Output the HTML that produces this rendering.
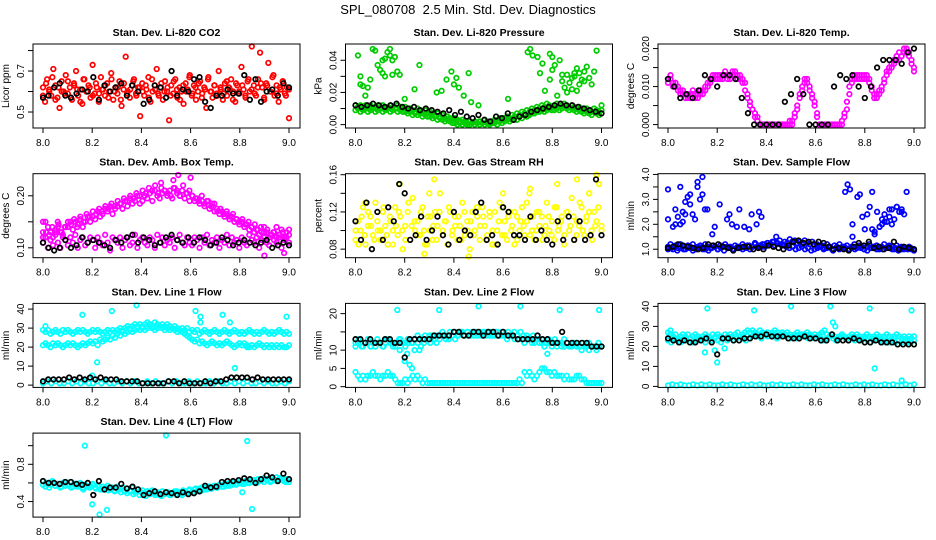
<!DOCTYPE html>
<html><head><meta charset="utf-8"><title>SPL_080708 Diagnostics</title>
<style>
html,body{margin:0;padding:0;background:#fff;}
svg{display:block;font-family:"Liberation Sans",Arial,sans-serif;}
</style></head>
<body>
<svg id="chart" width="936" height="540" viewBox="0 0 936 540" xmlns="http://www.w3.org/2000/svg">
<rect width="936" height="540" fill="#fff"/>
<text x="468" y="14" text-anchor="middle" font-size="13" style="white-space:pre">SPL_080708  2.5 Min. Std. Dev. Diagnostics</text>
</svg>
<script>
// ---------- data ----------
const xTicks = [8.0, 8.2, 8.4, 8.6, 8.8, 9.0];
const xTickLabels = ["8.0", "8.2", "8.4", "8.6", "8.8", "9.0"];

const co2Red = [0.62,0.55,0.66,0.60,0.58,0.71,0.63,0.57,0.52,0.65,0.60,0.68,0.59,0.62,0.56,0.64,0.70,0.58,0.61,0.54,
0.66,0.60,0.63,0.57,0.73,0.59,0.62,0.55,0.67,0.61,0.58,0.64,0.60,0.69,0.56,0.62,0.59,0.65,0.53,0.61,
0.77,0.60,0.57,0.63,0.66,0.59,0.62,0.48,0.64,0.58,0.61,0.67,0.55,0.60,0.63,0.71,0.58,0.62,0.56,0.65,
0.60,0.46,0.63,0.59,0.66,0.57,0.62,0.60,0.54,0.64,0.61,0.68,0.58,0.63,0.56,0.60,0.65,0.59,0.62,0.52,
0.67,0.60,0.57,0.63,0.59,0.70,0.61,0.56,0.64,0.58,0.62,0.66,0.60,0.55,0.63,0.59,0.72,0.61,0.57,0.65,
0.60,0.82,0.63,0.58,0.66,0.79,0.62,0.56,0.64,0.74,0.60,0.67,0.58,0.63,0.55,0.61,0.65,0.59,0.62,0.47];
const co2Red2 = [0.58,0.64,0.61,0.67,0.56,0.62,0.60,0.59,0.65,0.57,0.63,0.61,0.55,0.66,0.60,0.62,0.58,0.64,0.59,0.61,
0.63,0.57,0.66,0.60,0.62,0.56,0.64,0.59,0.61,0.65,0.58,0.62,0.60,0.63,0.57,0.66,0.61,0.59,0.64,0.60,
0.62,0.58,0.65,0.61,0.56,0.63,0.60,0.67,0.59,0.62,0.64,0.57,0.61,0.66,0.60,0.63,0.58,0.62,0.59,0.65,
0.61,0.56,0.64,0.60,0.63,0.58,0.66,0.61,0.59,0.62,0.64,0.57,0.63,0.60,0.68,0.59,0.62,0.65,0.58,0.61];
const co2Black = [0.57,0.58,0.62,0.64,0.58,0.57,0.59,0.61,0.60,0.67,0.56,0.63,0.60,0.62,0.64,0.58,0.63,0.60,0.54,0.56,0.63,0.62,0.57,0.70,0.58,0.61,0.60,0.66,0.67,0.55,0.52,0.58,0.58,0.61,0.59,0.59,0.68,0.56,0.66,0.55,0.60,0.61,0.58,0.64,0.62];

const pressGreen = [0.012,0.011,0.012,0.010,0.012,0.011,0.012,0.010,0.011,0.012,0.011,0.012,0.010,0.011,0.012,0.011,0.010,0.012,0.011,0.010,
0.011,0.009,0.010,0.009,0.008,0.010,0.009,0.008,0.009,0.007,0.008,0.007,0.006,0.007,0.005,0.006,0.004,0.005,0.004,0.003,
0.004,0.003,0.002,0.003,0.002,0.001,0.002,0.001,0.002,0.001,0.002,0.001,0.003,0.002,0.001,0.002,0.003,0.002,0.004,0.003,
0.004,0.005,0.004,0.006,0.005,0.007,0.006,0.008,0.007,0.009,0.008,0.010,0.009,0.011,0.010,0.012,0.011,0.013,0.012,0.011,
0.012,0.013,0.011,0.012,0.013,0.012,0.011,0.012,0.011,0.010,0.011,0.010,0.009,0.010,0.009,0.008,0.010,0.009,0.008,0.012];
const pressGreen2 = [0.009,0.010,0.008,0.009,0.010,0.008,0.009,0.010,0.008,0.009,0.010,0.008,0.009,0.010,0.008,0.009,0.010,0.008,0.009,0.008,
0.008,0.007,0.008,0.006,0.007,0.006,0.007,0.005,0.006,0.005,0.005,0.004,0.005,0.003,0.004,0.003,0.002,0.003,0.002,0.001,
0.001,0.000,0.001,0.000,0.001,0.000,0.000,0.001,0.000,0.001,0.000,0.001,0.000,0.001,0.000,0.001,0.001,0.000,0.002,0.001,
0.002,0.003,0.002,0.003,0.004,0.003,0.005,0.004,0.006,0.005,0.006,0.007,0.007,0.008,0.008,0.009,0.008,0.009,0.010,0.009,
0.009,0.010,0.009,0.010,0.011,0.010,0.009,0.010,0.009,0.008,0.009,0.008,0.007,0.008,0.007,0.006,0.008,0.007,0.006,0.009];
const pressOutX = [8.01,8.02,8.03,8.02,8.04,8.05,8.06,8.07,8.08,8.09,8.10,8.11,8.12,8.13,8.14,8.15,8.16,8.17,8.18,8.15,8.11,8.12,8.14,8.20,8.24,8.26,8.33,8.35,8.37,8.39,8.40,8.42,8.44,8.46,8.41,8.47,8.50,8.62,
8.70,8.71,8.72,8.74,8.76,8.79,8.81,8.84,8.80,8.85,8.86,8.87,8.88,8.89,8.90,8.91,8.92,8.93,8.94,8.95,8.96,8.97,8.98,8.86,8.88,8.91,8.93,8.84,8.83,8.79,8.77,8.82,8.75,8.80,8.90,8.89];
const pressOutY = [0.043,0.030,0.024,0.025,0.018,0.023,0.028,0.047,0.046,0.037,0.034,0.032,0.041,0.045,0.047,0.040,0.042,0.033,0.031,0.031,0.040,0.030,0.043,0.016,0.022,0.037,0.020,0.021,0.028,0.033,0.025,0.023,0.018,0.032,0.029,0.014,0.012,0.016,
0.045,0.047,0.043,0.042,0.038,0.044,0.037,0.027,0.042,0.023,0.020,0.026,0.022,0.030,0.035,0.032,0.028,0.033,0.036,0.029,0.025,0.033,0.046,0.031,0.029,0.025,0.027,0.031,0.040,0.028,0.021,0.018,0.032,0.034,0.021,0.032];
const pressBlack = [0.012,0.011,0.012,0.013,0.012,0.011,0.012,0.013,0.011,0.010,0.011,0.009,0.010,0.009,0.008,0.007,0.009,0.006,0.008,0.005,0.004,0.006,0.003,0.002,0.005,0.004,0.007,0.003,0.005,0.006,0.008,0.009,0.010,0.011,0.012,0.013,0.012,0.012,0.011,0.010,0.009,0.008,0.007];

const tempMag = [0.011,0.012,0.010,0.011,0.009,0.008,0.009,0.007,0.008,0.007,0.008,0.007,0.008,0.009,0.008,0.009,0.010,0.011,0.012,0.013,
0.012,0.013,0.012,0.013,0.012,0.013,0.014,0.013,0.012,0.013,0.012,0.011,0.008,0.006,0.004,0.003,0.002,0.000,0.000,0.000,
0.000,0.000,0.000,0.000,0.000,0.000,0.000,0.000,0.000,0.000,0.000,0.002,0.004,0.008,0.009,0.011,0.012,0.010,0.008,0.006,
0.003,0.000,0.000,0.000,0.000,0.000,0.000,0.000,0.000,0.000,0.000,0.002,0.004,0.008,0.012,0.013,0.012,0.013,0.012,0.013,
0.013,0.012,0.010,0.008,0.007,0.008,0.009,0.011,0.013,0.014,0.015,0.016,0.017,0.017,0.018,0.019,0.020,0.019,0.017,0.015];
const tempMag2 = [0.012,0.013,0.011,0.010,0.010,0.009,0.008,0.008,0.007,0.008,0.009,0.008,0.007,0.008,0.009,0.010,0.011,0.012,0.013,0.012,
0.013,0.012,0.013,0.014,0.013,0.012,0.013,0.014,0.013,0.012,0.011,0.009,0.007,0.005,0.004,0.002,0.001,0.000,0.000,0.000,
0.000,0.000,0.000,0.000,0.000,0.000,0.000,0.000,0.000,0.001,0.001,0.003,0.005,0.007,0.010,0.012,0.011,0.009,0.007,0.005,
0.002,0.000,0.000,0.000,0.000,0.000,0.000,0.000,0.000,0.000,0.001,0.003,0.006,0.010,0.011,0.012,0.013,0.012,0.013,0.012,
0.012,0.011,0.009,0.007,0.008,0.009,0.010,0.012,0.014,0.015,0.016,0.017,0.018,0.019,0.018,0.020,0.019,0.018,0.016,0.014];
const tempBlack = [0.012,0.010,0.007,0.008,0.007,0.009,0.013,0.012,0.010,0.013,0.013,0.012,0.007,0.003,0.000,0.000,0.000,0.000,0.000,0.006,0.008,0.012,0.008,0.000,0.000,0.000,0.000,0.010,0.013,0.012,0.013,0.010,0.007,0.010,0.015,0.017,0.017,0.017,0.016,0.019,0.020];

const ambLow = [0.11,0.12,0.10,0.115,0.105,0.125,0.11,0.10,0.12,0.115,0.105,0.12,0.11,0.125,0.10,0.115,0.12,0.105,0.11,0.12,
0.115,0.10,0.12,0.11,0.105,0.125,0.11,0.095,0.12,0.115,0.11,0.12,0.10,0.115,0.12,0.105,0.11,0.125,0.10,0.115,
0.12,0.11,0.105,0.12,0.115,0.10,0.125,0.11,0.12,0.105,0.115,0.11,0.12,0.10,0.115,0.125,0.11,0.105,0.12,0.11,
0.105,0.12,0.115,0.10,0.12,0.11,0.125,0.105,0.115,0.11,0.12,0.10,0.115,0.11,0.125,0.105,0.12,0.11,0.115,0.10,
0.12,0.11,0.105,0.125,0.115,0.11,0.12,0.10,0.115,0.12,0.11,0.105,0.125,0.115,0.11,0.12,0.10,0.115,0.12,0.11];
const ambArch = [0.13,0.12,0.14,0.13,0.12,0.135,0.14,0.13,0.125,0.14,0.14,0.15,0.135,0.15,0.145,0.155,0.14,0.15,0.16,0.15,
0.16,0.155,0.17,0.16,0.165,0.175,0.17,0.18,0.165,0.175,0.18,0.185,0.175,0.19,0.18,0.195,0.185,0.19,0.20,0.185,
0.19,0.20,0.195,0.205,0.19,0.21,0.20,0.195,0.205,0.21,0.20,0.21,0.195,0.215,0.205,0.20,0.21,0.195,0.205,0.19,
0.20,0.19,0.195,0.185,0.19,0.18,0.19,0.175,0.185,0.17,0.175,0.165,0.17,0.16,0.165,0.155,0.16,0.15,0.155,0.145,
0.15,0.14,0.145,0.135,0.14,0.13,0.135,0.125,0.13,0.14,0.13,0.12,0.125,0.13,0.12,0.125,0.135,0.12,0.13,0.125];
const ambArch2 = [0.12,0.13,0.125,0.14,0.13,0.145,0.13,0.14,0.15,0.145,0.155,0.14,0.16,0.15,0.165,0.16,0.17,0.165,0.175,0.17,
0.18,0.175,0.185,0.18,0.19,0.185,0.195,0.19,0.20,0.195,0.205,0.20,0.21,0.205,0.215,0.21,0.22,0.205,0.215,0.21,
0.205,0.20,0.215,0.21,0.20,0.22,0.205,0.21,0.20,0.195,0.19,0.20,0.185,0.19,0.18,0.185,0.17,0.175,0.165,0.17,
0.16,0.165,0.155,0.15,0.155,0.145,0.15,0.14,0.145,0.135,0.14,0.13,0.135,0.125,0.13,0.14,0.125,0.13,0.12,0.135];
const ambOutX = [8.00,8.01,8.06,8.48,8.53,8.55,8.60,8.90,8.98];
const ambOutY = [0.15,0.15,0.15,0.225,0.23,0.24,0.235,0.085,0.09];
const ambBlack = [0.11,0.10,0.095,0.10,0.115,0.10,0.105,0.12,0.11,0.115,0.11,0.105,0.10,0.115,0.11,0.12,0.125,0.11,0.12,0.115,0.105,0.11,0.12,0.125,0.115,0.11,0.12,0.11,0.12,0.115,0.105,0.11,0.12,0.115,0.105,0.11,0.115,0.11,0.105,0.11,0.115,0.10,0.105,0.11,0.105];

const rhYellow = [0.09,0.11,0.10,0.125,0.085,0.105,0.115,0.095,0.13,0.10,0.09,0.12,0.105,0.085,0.11,0.10,0.125,0.095,0.115,0.08,
0.105,0.12,0.09,0.135,0.10,0.11,0.095,0.125,0.085,0.115,0.10,0.09,0.12,0.105,0.14,0.095,0.11,0.085,0.12,0.10,
0.115,0.09,0.105,0.13,0.095,0.11,0.08,0.12,0.10,0.115,0.09,0.125,0.105,0.095,0.115,0.085,0.12,0.10,0.13,0.095,
0.11,0.09,0.12,0.105,0.085,0.115,0.10,0.125,0.095,0.11,0.14,0.10,0.09,0.12,0.105,0.115,0.095,0.13,0.10,0.11,
0.09,0.125,0.105,0.115,0.095,0.12,0.10,0.135,0.09,0.11,0.105,0.125,0.095,0.115,0.14,0.10,0.12,0.11,0.15,0.105];
const rhYellow2 = [0.10,0.085,0.115,0.095,0.12,0.105,0.09,0.11,0.10,0.125,0.095,0.115,0.085,0.105,0.12,0.10,0.09,0.13,0.105,0.11,
0.095,0.12,0.10,0.085,0.115,0.105,0.09,0.12,0.10,0.11,0.125,0.095,0.105,0.115,0.09,0.12,0.10,0.11,0.095,0.125,
0.105,0.115,0.09,0.12,0.10,0.085,0.11,0.125,0.095,0.115,0.10,0.12,0.09,0.11,0.105,0.13,0.095,0.115,0.10,0.12,
0.09,0.105,0.115,0.095,0.125,0.10,0.11,0.085,0.12,0.105,0.115,0.095,0.13,0.10,0.11,0.12,0.09,0.105,0.125,0.10];
const rhOutX = [8.04,8.18,8.30,8.32,8.60,8.71,8.82,8.90,8.95,8.98,8.28,8.46];
const rhOutY = [0.13,0.15,0.14,0.155,0.14,0.145,0.15,0.155,0.14,0.16,0.075,0.072];
const rhBlack = [0.11,0.09,0.13,0.08,0.12,0.09,0.125,0.11,0.15,0.14,0.09,0.095,0.115,0.09,0.10,0.115,0.095,0.085,0.12,0.09,0.10,0.095,0.12,0.13,0.09,0.095,0.085,0.125,0.12,0.095,0.095,0.09,0.115,0.09,0.10,0.09,0.085,0.11,0.09,0.115,0.09,0.11,0.09,0.095,0.155,0.095];

const sampBlue = [1.1,1.2,1.0,1.15,1.05,1.2,1.1,1.0,1.15,1.1,1.2,1.05,1.1,1.15,1.0,1.2,1.1,1.05,1.15,1.1,
1.0,1.15,1.1,1.2,1.05,1.1,1.0,1.15,1.1,1.05,1.2,1.1,1.15,1.0,1.1,1.25,1.1,1.15,1.2,1.1,
1.25,1.2,1.3,1.15,1.25,1.35,1.2,1.3,1.25,1.4,1.3,1.35,1.25,1.3,1.2,1.35,1.25,1.2,1.3,1.15,
1.2,1.1,1.15,1.05,1.2,1.1,1.0,1.15,1.1,1.2,1.05,1.1,1.15,1.0,1.1,1.2,1.05,1.15,1.1,1.0,
1.1,1.2,1.05,1.1,1.15,1.0,1.1,1.2,1.05,1.15,1.1,1.0,1.15,1.05,1.1,1.0,1.05,1.1,1.0,0.95];
const sampBlue2 = [1.0,1.05,1.1,0.95,1.05,1.0,1.1,1.05,0.95,1.0,1.05,1.1,1.0,0.95,1.05,1.1,1.0,1.05,0.95,1.1,
1.05,1.0,1.05,1.1,1.0,1.05,1.15,1.1,1.2,1.15,1.1,1.2,1.25,1.2,1.3,1.25,1.2,1.15,1.1,1.05,
1.1,1.0,1.05,1.1,1.0,1.05,0.95,1.0,1.05,1.1,1.0,1.05,1.1,0.95,1.05,1.0,1.1,1.05,1.0,1.05,
1.0,1.1,1.05,1.0,0.95,1.05,1.1,1.0,1.05,1.0,1.05,1.1,1.0,1.05,0.95,1.0,1.05,1.0,1.05,1.0];
const sampOutX = [8.00,8.00,8.02,8.03,8.04,8.05,8.06,8.07,8.08,8.09,8.10,8.11,8.12,8.13,8.14,8.15,8.16,8.03,8.06,8.09,8.12,8.05,8.07,8.14,8.19,8.21,8.24,8.26,8.29,8.31,8.34,8.36,8.38,8.18,8.25,8.28,8.33,8.37,8.44,
8.72,8.73,8.74,8.75,8.77,8.78,8.80,8.81,8.82,8.83,8.84,8.85,8.86,8.87,8.88,8.89,8.90,8.91,8.92,8.93,8.94,8.95,8.96,8.97,8.75,8.79,8.83,8.86,8.90,8.93,8.87,8.91,8.95,8.84,8.88];
const sampOutY = [3.4,2.2,1.9,2.6,2.3,3.5,2.5,2.9,3.1,3.2,2.4,2.2,3.7,3.0,3.9,2.6,2.6,2.0,2.1,2.8,3.5,2.0,2.4,3.2,1.9,2.8,2.2,2.0,2.6,1.9,2.4,2.0,2.3,1.6,2.4,1.9,1.8,2.5,1.5,
3.3,3.6,3.4,2.0,3.1,3.2,1.8,2.4,2.7,3.3,1.7,2.5,1.9,2.2,2.4,2.1,2.6,2.0,2.2,2.7,2.5,2.6,2.4,3.3,1.5,2.3,1.8,1.9,2.3,2.7,2.0,2.6,2.5,1.6,2.1];
const sampBlack = [1.05,1.1,1.2,1.15,1.1,1.05,1.0,1.05,1.2,1.15,1.2,1.1,1.05,0.95,1.05,1.1,1.1,1.0,1.05,1.0,1.15,1.1,1.05,1.0,1.15,1.3,1.35,1.25,1.3,1.2,1.3,1.25,1.1,1.0,1.05,1.0,0.95,1.1,1.25,1.15,1.3,1.05,1.1,1.0,1.05,1.3,1.0,1.1,1.05,1.0];

const l1Upper = [29,28,29,27,28,29,28,27,29,28,29,28,27,28,29,28,29,28,27,28,
29,28,29,28,27,28,29,28,29,28,29,30,29,30,31,30,31,32,31,32,
31,32,33,32,31,33,32,31,32,31,32,31,30,31,30,29,30,29,30,28,
29,28,29,27,28,29,28,27,28,29,28,27,28,29,28,27,28,29,28,27,
28,27,28,29,28,27,28,27,28,29,28,27,28,27,28,29,28,27,28,27];
const l1Lower = [21,22,21,20,22,21,22,21,20,21,22,21,22,21,20,21,22,21,22,23,
22,23,21,24,23,24,25,24,26,25,27,26,28,27,28,29,28,29,30,29,
30,29,30,31,30,29,30,31,30,29,30,29,30,29,28,29,28,27,26,25,
24,23,24,22,23,22,21,22,23,22,21,22,21,22,23,22,21,20,21,22,
21,22,21,20,21,20,21,22,21,20,21,20,21,20,21,20,21,20,20,21];
const l1Bottom = [1,2,1,2,1,1,2,1,2,1,2,1,1,2,1,2,1,1,2,1,2,1,2,1,1,2,1,2,1,1,2,1,2,1,1,2,1,2,1,1,2,1,2,1,1,2,1,2,1,2,1,1,2,1,2,1,1,2,1,2];
const l1OutX = [8.01,8.16,8.22,8.20,8.28,8.38,8.62,8.64,8.73,8.76,8.78,8.99,8.64,8.83];
const l1OutY = [31,37,12,5,39,42,39,36,37,33,9,36,33,20];
const l1Black = [2,3,3,3,3,4,3,4,3,4,3,4,3,3,3,2,2,2,2,1,1,1,1,1,2,2,1,2,1,1,1,2,1,2,2,3,4,4,4,4,3,4,3,3,3,3,3,3];

const l2Main = [11,12,12,11,12,12,11,12,11,12,12,11,12,13,12,12,11,12,13,12,
12,13,13,12,13,14,13,13,14,13,14,14,13,14,14,15,14,14,15,14,
15,14,15,15,14,15,14,15,15,14,15,14,15,15,14,15,14,15,14,14,
14,13,14,14,13,14,13,13,12,13,13,12,12,13,12,12,11,12,12,11,
12,11,12,11,11,12,11,11,12,11,11,10,11,11,10,11,11,10,11,11];
const l2Main2 = [12,13,11,12,13,11,12,13,12,11,13,12,11,12,13,12,11,12,12,13,
12,11,12,13,12,13,12,13,14,13,13,14,13,14,15,14,15,14,14,15,
14,15,14,15,14,15,14,15,14,15,14,15,14,15,14,14,13,14,13,13,
13,12,13,12,13,12,12,13,12,11,12,12,11,12,11,12,11,11,12,11];
const l2Low = [4,3,2,3,2,3,3,4,3,3,2,3,3,4,3,3,2,1,1,1,
2,1,2,3,2,3,2,1,2,1,1,1,1,1,1,1,1,1,1,1,
1,1,1,1,1,1,1,1,1,1,1,1,1,1,1,1,1,1,1,1,
1,1,1,1,1,1,2,1,4,3,4,3,2,3,4,5,5,4,4,3,
4,3,3,3,2,3,2,2,2,3,3,2,2,1,1,1,1,1,1,1];
const l2OutX = [8.17,8.20,8.22,8.24,8.26,8.34,8.50,8.67,8.83,8.99,8.78,8.18,8.23,8.21];
const l2OutY = [21,7,6,10,10,21,22,22,21,21,9,10,5,9];
const l2Black = [13,13,12,13,12,12,13,13,12,12,8,13,13,13,13,13,14,14,14,14,15,15,14,14,15,15,14,15,15,14,15,14,14,13,13,13,13,14,13,13,12,12,15,12,12,12,12,12,11,11,11];

const l3Main = [27,26,25,26,24,25,26,25,26,24,25,26,25,24,25,26,25,24,26,25,
26,25,24,26,25,26,25,26,27,25,26,27,28,27,28,27,26,28,27,26,
27,26,27,28,27,26,27,26,27,26,25,26,27,26,25,26,27,26,25,26,
25,26,27,28,26,25,26,25,24,25,26,25,24,25,26,25,26,25,24,25,
26,25,24,25,26,25,24,25,26,25,24,25,26,25,24,25,24,25,24,25];
const l3Main2 = [23,22,24,23,22,24,23,24,22,23,24,23,22,24,23,24,23,22,24,23,
24,23,24,25,24,23,24,25,26,25,24,26,25,26,25,24,25,26,25,24,
25,24,25,26,25,24,25,24,25,24,23,24,25,24,23,24,25,24,23,24,
23,24,23,24,23,22,23,24,23,22,23,22,23,22,23,22,23,22,22,23];
const l3Bottom = [0.5,1,0.5,1,0.5,0.5,1,0.5,1,0.5,1,0.5,0.5,1,0.5,1,0.5,0.5,1,0.5,1,0.5,1,0.5,0.5,1,0.5,1,0.5,0.5,1,0.5,1,0.5,0.5,1,0.5,1,0.5,0.5,1,0.5,1,0.5,0.5,1,0.5,1,0.5,1,0.5,0.5,1,0.5,1,0.5,0.5,1,0.5,1];
const l3OutX = [8.16,8.20,8.23,8.35,8.50,8.66,8.67,8.68,8.82,8.84,8.99,8.15,8.19,8.01,8.95];
const l3OutY = [39,12,19,38,40,40,32,30,39,9,38,17,18,28,3];
const l3Black = [24,23,22,23,22,22,23,24,22,16,24,24,23,23,24,24,25,25,26,25,25,25,24,24,24,25,24,24,23,23,26,23,23,23,24,23,22,22,23,22,22,22,21,21,21,21];

const l4Band = [0.62,0.56,0.60,0.58,0.61,0.57,0.59,0.55,0.60,0.57,0.58,0.61,0.56,0.59,0.57,0.60,0.55,0.58,0.56,0.57,
0.59,0.55,0.57,0.53,0.56,0.54,0.57,0.53,0.55,0.52,0.56,0.53,0.55,0.51,0.54,0.52,0.55,0.50,0.53,0.51,
0.52,0.49,0.51,0.48,0.52,0.49,0.50,0.47,0.51,0.48,0.50,0.47,0.49,0.51,0.48,0.50,0.47,0.51,0.49,0.52,
0.50,0.53,0.51,0.54,0.52,0.55,0.53,0.56,0.54,0.57,0.55,0.58,0.56,0.59,0.57,0.60,0.58,0.61,0.59,0.60,
0.61,0.59,0.62,0.60,0.61,0.63,0.60,0.62,0.64,0.61,0.63,0.65,0.62,0.64,0.66,0.63,0.65,0.62,0.64,0.61];
const l4Band2 = [0.58,0.60,0.55,0.62,0.57,0.59,0.56,0.61,0.58,0.55,0.59,0.56,0.58,0.53,0.57,0.55,0.58,0.54,0.56,0.53,
0.55,0.52,0.54,0.51,0.53,0.50,0.52,0.49,0.51,0.48,0.50,0.47,0.49,0.46,0.48,0.50,0.47,0.49,0.46,0.48,
0.50,0.47,0.49,0.51,0.48,0.52,0.50,0.53,0.51,0.54,0.52,0.55,0.53,0.56,0.54,0.57,0.55,0.58,0.56,0.59,
0.57,0.60,0.58,0.61,0.59,0.62,0.60,0.63,0.61,0.64,0.62,0.65,0.63,0.61,0.64,0.62,0.65,0.63,0.61,0.64];
const l4OutX = [8.17,8.20,8.23,8.26,8.50,8.81,8.83,8.85,8.16];
const l4OutY = [1.00,0.37,0.26,0.31,1.11,0.50,1.05,0.32,0.54];
const l4Black = [0.62,0.60,0.60,0.59,0.61,0.61,0.59,0.58,0.60,0.47,0.62,0.53,0.55,0.55,0.59,0.54,0.56,0.53,0.47,0.49,0.51,0.48,0.50,0.49,0.47,0.50,0.48,0.49,0.51,0.57,0.55,0.56,0.61,0.62,0.62,0.63,0.65,0.64,0.60,0.64,0.68,0.66,0.62,0.70,0.64];

// ---------- layout config (not data) ----------
const panels = [
 {key:"co2", title:"Stan. Dev. Li-820 CO2", ylab:"Licor ppm", ylim:[0.422,0.832], ticks:[0.5,0.6,0.7,0.8], tlab:["0.5","","0.7",""],
  series:[{v:co2Red,c:"#ff0000"},{v:co2Red2,c:"#ff0000"},{v:co2Black,c:"#000"}]},
 {key:"pressure", title:"Stan. Dev. Li-820 Pressure", ylab:"kPa", ylim:[-0.0021,0.0501], ticks:[0,0.01,0.02,0.03,0.04], tlab:["0.00","","0.02","","0.04"],
  series:[{v:pressGreen,c:"#00cc00"},{v:pressGreen2,c:"#00cc00"},{ox:pressOutX,oy:pressOutY,c:"#00cc00"},{v:pressBlack,c:"#000"}]},
 {key:"temp", title:"Stan. Dev. Li-820 Temp.", ylab:"degrees C", ylim:[-0.0009,0.0212], ticks:[0,0.005,0.01,0.015,0.02], tlab:["0.000","","0.010","","0.020"],
  series:[{v:tempMag,c:"#ff00ff"},{v:tempMag2,c:"#ff00ff"},{v:tempBlack,c:"#000"}]},
 {key:"amb", title:"Stan. Dev. Amb. Box Temp.", ylab:"degrees C", ylim:[0.081,0.2425], ticks:[0.10,0.15,0.20], tlab:["0.10","","0.20"],
  series:[{v:ambLow,c:"#ff00ff"},{v:ambArch,c:"#ff00ff"},{v:ambArch2,c:"#ff00ff"},{ox:ambOutX,oy:ambOutY,c:"#ff00ff"},{v:ambBlack,c:"#000"}]},
 {key:"rh", title:"Stan. Dev. Gas Stream RH", ylab:"percent", ylim:[0.0708,0.1611], ticks:[0.08,0.10,0.12,0.14,0.16], tlab:["0.08","","0.12","","0.16"],
  series:[{v:rhYellow,c:"#ffff00"},{v:rhYellow2,c:"#ffff00"},{ox:rhOutX,oy:rhOutY,c:"#ffff00"},{v:rhBlack,c:"#000"}]},
 {key:"sample", title:"Stan. Dev. Sample Flow", ylab:"ml/min", ylim:[0.66,4.03], ticks:[1,1.5,2,2.5,3,3.5,4], tlab:["1.0","","2.0","","3.0","","4.0"],
  series:[{v:sampBlue,c:"#0000ff"},{v:sampBlue2,c:"#0000ff"},{ox:sampOutX,oy:sampOutY,c:"#0000ff"},{v:sampBlack,c:"#000"}]},
 {key:"line1", title:"Stan. Dev. Line 1 Flow", ylab:"ml/min", ylim:[-1.2,43], ticks:[0,10,20,30,40], tlab:["0","10","20","30","40"],
  series:[{v:l1Upper,c:"#00ffff"},{v:l1Lower,c:"#00ffff"},{v:l1Bottom,c:"#00ffff"},{ox:l1OutX,oy:l1OutY,c:"#00ffff"},{v:l1Black,c:"#000"}]},
 {key:"line2", title:"Stan. Dev. Line 2 Flow", ylab:"ml/min", ylim:[-0.2,22.8], ticks:[0,5,10,15,20], tlab:["0","5","10","","20"],
  series:[{v:l2Main,c:"#00ffff"},{v:l2Main2,c:"#00ffff"},{v:l2Low,c:"#00ffff"},{ox:l2OutX,oy:l2OutY,c:"#00ffff"},{v:l2Black,c:"#000"}]},
 {key:"line3", title:"Stan. Dev. Line 3 Flow", ylab:"ml/min", ylim:[-0.5,41.5], ticks:[0,10,20,30,40], tlab:["0","10","20","30","40"],
  series:[{v:l3Main,c:"#00ffff"},{v:l3Main2,c:"#00ffff"},{v:l3Bottom,c:"#00ffff"},{ox:l3OutX,oy:l3OutY,c:"#00ffff"},{v:l3Black,c:"#000"}]},
 {key:"line4", title:"Stan. Dev. Line 4 (LT) Flow", ylab:"ml/min", ylim:[0.233,1.135], ticks:[0.4,0.6,0.8,1.0], tlab:["0.4","","0.8",""],
  series:[{v:l4Band,c:"#00ffff"},{v:l4Band2,c:"#00ffff"},{ox:l4OutX,oy:l4OutY,c:"#00ffff"},{v:l4Black,c:"#000"}]}
];

const NS = "http://www.w3.org/2000/svg";
const svg = document.getElementById("chart");
function mk(tag, attrs, parent){
  const e = document.createElementNS(NS, tag);
  for (const k in attrs) e.setAttribute(k, attrs[k]);
  parent.appendChild(e);
  return e;
}

panels.forEach((p, i) => {
  const col = i % 3, row = Math.floor(i / 3);
  const L = 33 + 312.5 * col, R = L + 267;
  const T = 44 + 129.7 * row, B = T + 84;
  const xa = L + 10, xb = L + 256;
  const sx = v => xa + (v - 8) / (9 - 8) * (xb - xa);
  const sy = v => B - (v - p.ylim[0]) / (p.ylim[1] - p.ylim[0]) * (B - T);

  const g = mk("g", {}, svg);
  
  

  const t = mk("text", {x:(L+R)/2, y:T-8, "text-anchor":"middle", "font-size":"10.5", "font-weight":"bold"}, g);
  t.textContent = p.title;
  
  

  const pts = mk("g", {fill:"none", "stroke-width":"1.7"}, g);
  
  
  p.series.forEach(s => {
    if (s.v) {
      const n = s.v.length;
      s.v.forEach((v, j) => {
        const c = mk("circle", {cx:sx(8 + j/(n-1)), cy:sy(v), r:2.3, stroke:s.c}, pts);
        
        
      });
    } else {
      s.ox.forEach((xv, j) => {
        const c = mk("circle", {cx:sx(xv), cy:sy(s.oy[j]), r:2.3, stroke:s.c}, pts);
        
        
      });
    }
  });

  const box = mk("rect", {x:L, y:T, width:R-L, height:B-T, fill:"none", stroke:"#000", "stroke-width":"1"}, g);
  
  

  const xg = mk("g", {}, g);
  
  
  xTicks.forEach((xv, j) => {
    mk("line", {x1:sx(xv), x2:sx(xv), y1:B, y2:B+5, stroke:"#000"}, xg);
    const tl = mk("text", {x:sx(xv), y:B+18, "text-anchor":"middle", "font-size":"10"}, xg);
    tl.textContent = xTickLabels[j];
    
    
  });

  const yg = mk("g", {}, g);
  
  
  p.ticks.forEach((tv, j) => {
    const y = sy(tv);
    mk("line", {x1:L-5, x2:L, y1:y, y2:y, stroke:"#000"}, yg);
    if (p.tlab[j]) {
      const tl = mk("text", {x:L-9, y:y, "text-anchor":"middle", "font-size":"10", transform:`rotate(-90 ${L-9} ${y})`}, yg);
      tl.textContent = p.tlab[j];
      
      
    }
  });
  const yt = mk("text", {x:L-24, y:(T+B)/2, "text-anchor":"middle", "font-size":"10", transform:`rotate(-90 ${L-24} ${(T+B)/2})`}, yg);
  yt.textContent = p.ylab;
  
  
});
</script>
</body></html>
